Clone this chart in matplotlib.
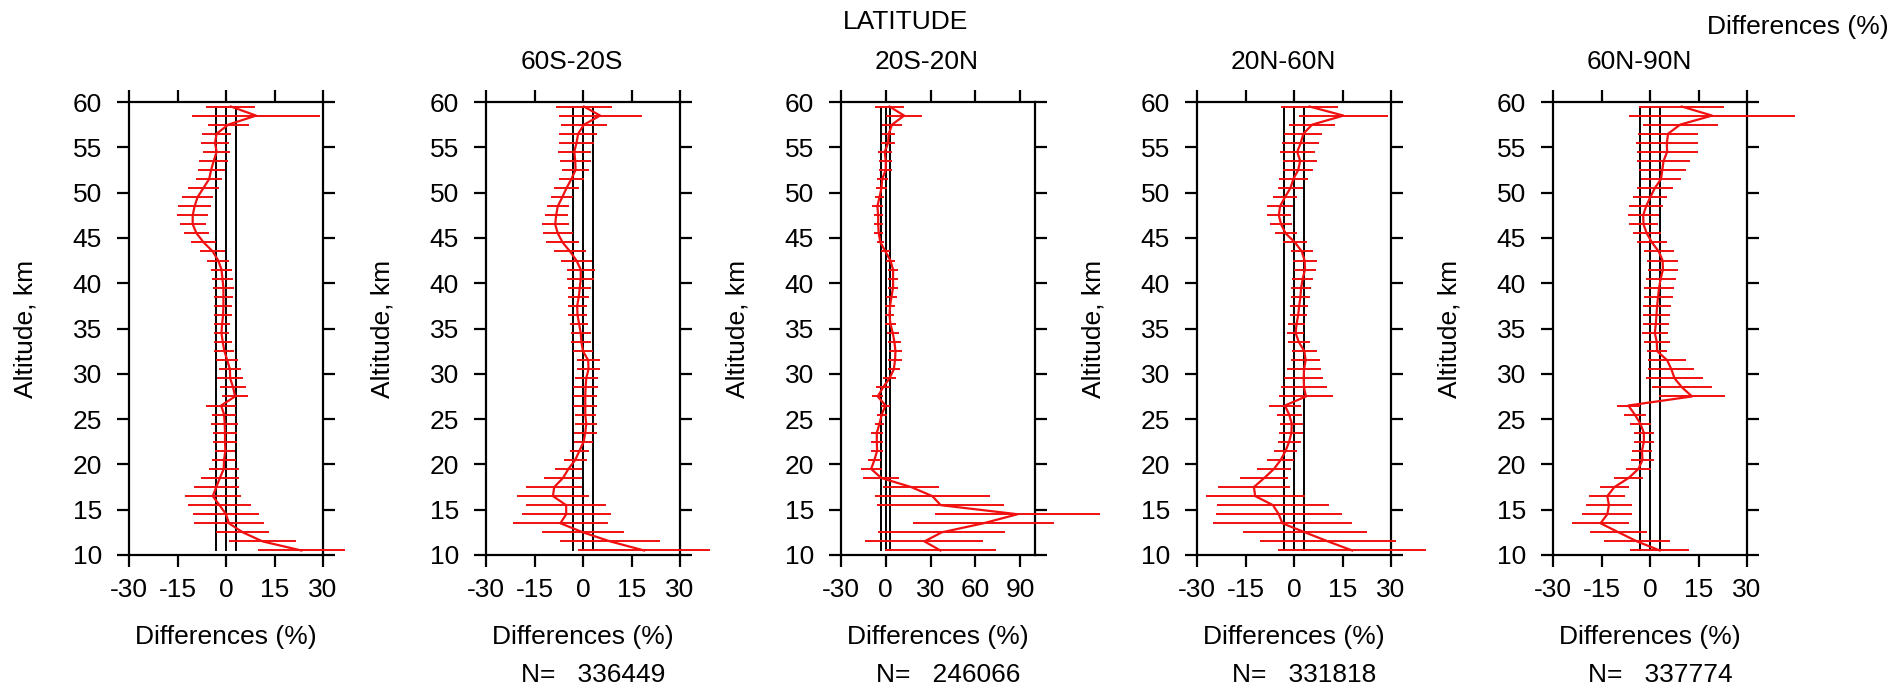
import matplotlib
matplotlib.use("Agg")
import matplotlib.pyplot as plt

plt.rcParams["font.family"] = ["Liberation Sans", "DejaVu Sans"]
plt.rcParams["axes.unicode_minus"] = False

# Altitude levels (km), bottom to top
altitude = [10.5, 11.5, 12.5, 13.5, 14.5, 15.5, 16.5, 17.5, 18.5, 19.5,
            20.5, 21.5, 22.5, 23.5, 24.5, 25.5, 26.5, 27.5, 28.5, 29.5,
            30.5, 31.5, 32.5, 33.5, 34.5, 35.5, 36.5, 37.5, 38.5, 39.5,
            40.5, 41.5, 42.5, 43.5, 44.5, 45.5, 46.5, 47.5, 48.5, 49.5,
            50.5, 51.5, 52.5, 53.5, 54.5, 55.5, 56.5, 57.5, 58.5, 59.5]

# Global mean difference (%) and its spread (%)
global_mean = [23.3, 11.3, 5.2, 0.9, 0.0, -2.0, -4.1, -3.0, -1.9, -0.7,
               -0.6, -0.2, -0.3, -0.3, -0.4, -0.6, -1.5, 2.8, 2.2, 1.3,
               1.2, 0.4, -0.5, -1.0, -1.4, -1.2, -0.9, -0.8, -0.8, -0.8,
               -1.1, -1.4, -2.4, -4.1, -6.9, -9.1, -10.3, -10.3, -9.7, -8.8,
               -7.0, -5.2, -4.6, -3.8, -2.9, -3.4, -2.9, 0.7, 9.3, 1.5]
global_sd = [13.5, 10.3, 8.2, 10.9, 10.3, 9.6, 8.6, 6.9, 5.8, 4.6,
             3.8, 3.1, 3.6, 3.8, 4.1, 3.7, 4.6, 3.9, 4.1, 4.0,
             3.4, 3.4, 3.1, 2.8, 2.4, 2.5, 2.8, 2.8, 3.0, 3.2,
             3.2, 3.2, 3.4, 3.8, 3.8, 3.8, 4.0, 4.8, 5.1, 4.9,
             4.7, 4.1, 4.2, 4.4, 4.1, 4.4, 4.6, 6.4, 19.7, 7.6]

s60s20s_mean = [18.9, 8.4, 0.0, -7.0, -5.2, -5.2, -9.3, -8.9, -6.2, -4.5,
                -2.4, -1.1, 0.2, 0.7, 1.0, 0.7, 0.7, 0.7, 0.8, 1.0,
                1.7, 1.6, 0.0, -0.5, -0.7, -1.2, -1.7, -1.8, -1.3, -1.0,
                -0.7, -0.7, -2.0, -4.0, -6.3, -7.8, -8.6, -8.3, -7.8, -6.4,
                -5.1, -3.6, -2.3, -2.4, -2.7, -2.0, -1.5, 0.3, 5.3, 0.3]
s60s20s_sd = [20.5, 15.5, 12.7, 14.6, 13.8, 12.4, 11.2, 8.6, 5.9, 4.3,
              3.5, 3.0, 3.0, 3.5, 3.4, 3.2, 3.7, 3.7, 3.8, 3.6,
              3.6, 3.6, 3.1, 3.1, 3.1, 2.9, 2.9, 2.9, 3.2, 3.6,
              4.1, 4.4, 4.8, 5.0, 5.0, 4.7, 4.2, 3.6, 3.4, 3.4,
              3.8, 3.9, 4.1, 4.8, 5.1, 5.5, 5.9, 7.2, 12.8, 8.6]

s20s20n_mean = [36.6, 25.9, 37.5, 65.4, 88.3, 36.8, 31.2, 17.0, -3.0, -9.8,
                -7.6, -5.8, -6.0, -6.0, -4.2, -2.7, -0.2, -5.4, -1.8, 2.5,
                5.4, 6.2, 6.5, 5.8, 4.7, 3.1, 2.5, 2.9, 3.8, 4.9,
                4.9, 4.9, 3.1, -0.2, -3.6, -4.7, -5.1, -5.1, -5.6, -4.2,
                -2.9, -2.4, 0.0, 0.0, -0.7, 1.6, 2.0, 4.2, 12.3, 2.5]
s20s20n_sd = [37.1, 39.5, 42.4, 47.4, 55.0, 42.4, 38.5, 19.0, 12.0, 7.0,
              4.5, 4.1, 3.9, 3.9, 3.3, 3.3, 3.1, 3.7, 4.7, 4.1,
              4.1, 4.5, 4.2, 4.1, 4.1, 3.6, 3.3, 3.3, 3.6, 3.6,
              3.6, 3.6, 3.1, 3.1, 2.5, 3.0, 3.1, 3.1, 3.5, 3.1,
              3.6, 3.7, 4.3, 4.5, 4.7, 4.7, 4.2, 6.5, 12.3, 9.8]

s20n60n_mean = [18.0, 10.5, 3.4, -3.6, -4.7, -6.5, -12.0, -12.4, -9.2, -6.2,
                -4.1, -2.6, -1.5, -0.8, -0.7, -1.5, -2.8, 3.7, 3.1, 3.0,
                3.1, 3.6, 3.2, 1.5, 0.5, 0.8, 1.3, 1.6, 2.0, 2.2,
                2.7, 3.4, 3.3, 2.4, 0.3, -2.6, -4.0, -4.7, -4.3, -2.8,
                -1.1, -0.2, 1.3, 1.9, 1.0, 2.1, 2.9, 5.6, 15.3, 4.8]
s20n60n_sd = [22.9, 20.9, 19.3, 21.4, 19.5, 17.4, 15.3, 11.1, 7.4, 5.2,
              4.1, 3.6, 3.6, 3.7, 3.6, 3.9, 4.9, 8.4, 7.2, 6.1,
              5.4, 4.4, 3.8, 3.4, 2.6, 2.6, 2.6, 2.7, 3.0, 3.2,
              3.2, 3.4, 3.7, 3.4, 3.8, 3.4, 3.5, 3.8, 4.1, 3.6,
              4.0, 4.4, 4.6, 5.2, 5.4, 5.7, 5.9, 7.1, 13.7, 8.8]

s60n90n_mean = [3.0, -4.0, -9.7, -15.3, -13.2, -12.7, -13.2, -11.0, -6.6, -3.6,
                -2.3, -2.5, -1.9, -1.9, -3.0, -4.7, -6.7, 13.0, 9.9, 7.6,
                6.6, 5.3, 2.2, 2.1, 1.5, 1.8, 2.0, 2.2, 2.5, 2.8,
                3.3, 4.0, 3.9, 2.7, 0.6, -1.0, -2.0, -2.1, -1.2, 0.1,
                1.5, 3.4, 3.8, 4.2, 5.3, 5.2, 5.6, 9.3, 19.2, 9.8]
s60n90n_sd = [9.2, 10.2, 8.9, 8.8, 7.7, 7.2, 5.6, 4.6, 4.5, 3.8,
              3.6, 3.2, 3.1, 3.1, 3.2, 3.4, 3.6, 10.2, 9.4, 8.7,
              7.1, 5.8, 3.2, 4.1, 4.1, 4.1, 4.2, 4.3, 4.5, 4.7,
              4.6, 4.7, 4.8, 4.7, 4.7, 4.4, 4.5, 4.8, 5.2, 5.3,
              5.6, 6.3, 7.2, 8.1, 9.4, 9.6, 9.2, 11.6, 25.7, 13.1]

band_titles = ["", "60S-20S", "20S-20N", "20N-60N", "60N-90N"]
band_counts = [None, 336449, 246066, 331818, 337774]
band_means = [global_mean, s60s20s_mean, s20s20n_mean, s20n60n_mean, s60n90n_mean]
band_sds = [global_sd, s60s20s_sd, s20s20n_sd, s20n60n_sd, s60n90n_sd]
band_xlims = [(-30, 30), (-30, 30), (-30, 100), (-30, 30), (-30, 30)]
band_xticks = [[-30, -15, 0, 15, 30], [-30, -15, 0, 15, 30],
               [-30, 0, 30, 60, 90], [-30, -15, 0, 15, 30],
               [-30, -15, 0, 15, 30]]
ref_lines = [-3, 0, 3]
y_ticks = [10, 15, 20, 25, 30, 35, 40, 45, 50, 55, 60]

W, H = 1895, 688
fig = plt.figure(figsize=(W / 100, H / 100), dpi=100)

FS = 19
RED = "#f01010"
ax_lefts = [129, 486, 841, 1197, 1553]
ax_w, ax_top, ax_bot = 194, 102, 555
ax_h = ax_bot - ax_top

for i in range(5):
    ax = fig.add_axes([ax_lefts[i] / W, (H - ax_bot) / H, ax_w / W, ax_h / H])
    for xv in ref_lines:
        ax.plot([xv, xv], [altitude[0], altitude[-1]], color="black", lw=1.4, zorder=2)
    ax.errorbar(band_means[i], altitude, xerr=band_sds[i], fmt="-", color=RED,
                ecolor=RED, elinewidth=1.4, lw=1.6, capsize=0, zorder=3,
                clip_on=False)
    ax.set_xlim(*band_xlims[i])
    ax.set_ylim(10, 60)
    ax.set_xticks(band_xticks[i])
    ax.set_yticks(y_ticks)
    for sp in ax.spines.values():
        sp.set_linewidth(1.6)
    ax.tick_params(axis="both", direction="out", length=8.6, width=1.6,
                   top=True, right=True, labelsize=FS)
    ax.tick_params(axis="x", pad=8)
    ax.tick_params(axis="y", pad=11)
    ax.set_xlabel("Differences (%)", fontsize=FS, va="center")
    ax.xaxis.set_label_coords(0.5, -(637 - ax_bot) / ax_h)
    ax.set_ylabel("Altitude, km", fontsize=FS, va="center", ha="center")
    ax.yaxis.set_label_coords(-104 / ax_w, 0.5)
    if band_titles[i]:
        ax.text(0.5 - 11 / ax_w, 1 + 40 / ax_h, band_titles[i], transform=ax.transAxes,
                ha="center", va="center", fontsize=FS)
    if band_counts[i] is not None:
        ax.text(0.5 + 10 / ax_w, -(675 - ax_bot) / ax_h, f"N=   {band_counts[i]}",
                transform=ax.transAxes, ha="center", va="center", fontsize=FS)

fig.text(906 / W, 1 - 22 / H, "LATITUDE", ha="center", va="center", fontsize=FS)
fig.text(1889 / W, 1 - 27 / H, "Differences (%)", ha="right", va="center", fontsize=FS)

fig.savefig("out.png", dpi=100)
